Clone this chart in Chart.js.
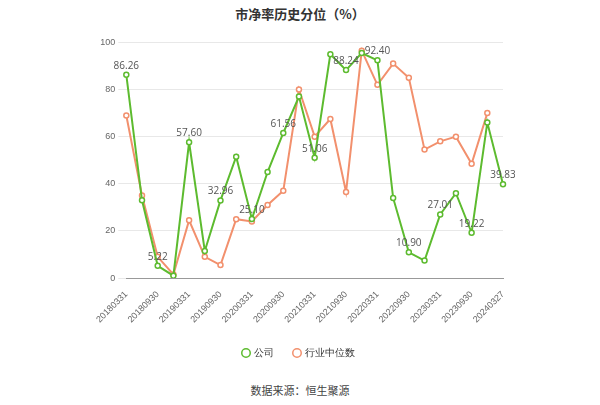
<!DOCTYPE html>
<html>
<head>
<meta charset="utf-8">
<script src="https://cdn.jsdelivr.net/npm/chart.js@4/dist/chart.umd.min.js"></script>
<style>
  body { margin: 0; background: #fff; font-family: "Noto Sans CJK SC", sans-serif; }
  #wrap { position: relative; width: 600px; height: 405px; }
  #title { position: absolute; top: 4px; width: 100%; text-align: center; font-size: 13px; font-weight: bold; color: #333; }
  #source { position: absolute; top: 382px; width: 100%; text-align: center; font-size: 11px; color: #444; }
  #box { position: absolute; left: 95px; top: 34px; width: 420px; height: 334px; }
</style>
</head>
<body>
<div id="wrap">
  <div id="title">市净率历史分位（%）</div>
  <div id="box"><canvas id="chart"></canvas></div>
  <div id="source">数据来源：恒生聚源</div>
</div>
<script>
const dates = ['20180331','20180630','20180930','20181231','20190331','20190630','20190930','20191231',
  '20200331','20200630','20200930','20201231','20210331','20210630','20210930','20211231',
  '20220331','20220630','20220930','20221231','20230331','20230630','20230930','20231231','20240327'];
const companyValues = [86.26, 33, 5.22, 1, 57.60, 11.5, 32.96, 51.5, 25.10, 45, 61.56, 77, 51.06,
  95, 88.24, 95.5, 92.40, 34, 10.90, 7.4, 27.01, 36, 19.22, 66, 39.83];
const industryValues = [69, 35, 9, 1.5, 24.5, 9, 5.5, 25, 24, 31, 37, 80, 60,
  67.5, 36.5, 96.5, 82, 91, 85, 54.5, 58, 60, 48.5, 70, null];
const labelledIdx = [0, 2, 4, 6, 8, 10, 12, 14, 16, 18, 20, 22, 24];

const valueLabels = {
  id: 'valueLabels',
  afterDatasetsDraw(chart) {
    const ctx = chart.ctx;
    const meta = chart.getDatasetMeta(0);
    ctx.save();
    ctx.font = '10px "Open Sans", sans-serif';
    ctx.fillStyle = '#555';
    ctx.textAlign = 'center';
    ctx.textBaseline = 'bottom';
    labelledIdx.forEach(i => {
      const p = meta.data[i];
      ctx.fillText(companyValues[i].toFixed(2), p.x, p.y - 4);
    });
    ctx.restore();
  }
};

new Chart(document.getElementById('chart'), {
  type: 'line',
  data: {
    labels: dates,
    datasets: [
      { label: '公司', data: companyValues, borderColor: '#5dbb2f', backgroundColor: '#fff',
        borderWidth: 2, pointRadius: 2.5, pointBorderWidth: 1.5, tension: 0 },
      { label: '行业中位数', data: industryValues, borderColor: '#f2906d', backgroundColor: '#fff',
        borderWidth: 2, pointRadius: 2.5, pointBorderWidth: 1.5, tension: 0 }
    ]
  },
  options: {
    responsive: true,
    maintainAspectRatio: false,
    animation: false,
    layout: { padding: { right: 12 } },
    scales: {
      y: {
        min: 0, max: 100,
        ticks: { stepSize: 20, color: '#666', font: { size: 9 } },
        grid: { color: '#e8e8e8' },
        border: { display: false }
      },
      x: {
        ticks: { color: '#666', font: { size: 9 }, maxRotation: 45, minRotation: 45, autoSkip: false,
          callback: function(v, i) { return i % 2 === 0 ? this.getLabelForValue(v) : ''; } },
        grid: { display: false, drawTicks: true },
        border: { color: '#999' }
      }
    },
    plugins: {
      legend: {
        position: 'bottom',
        labels: { color: '#333', font: { size: 10 }, usePointStyle: true, pointStyle: 'circle', boxWidth: 6, boxHeight: 6, padding: 20 }
      },
      tooltip: { enabled: false }
    }
  },
  plugins: [valueLabels]
});
</script>
</body>
</html>
